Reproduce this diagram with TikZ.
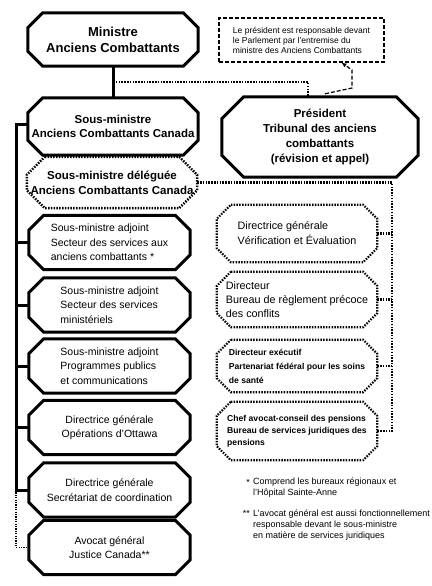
\documentclass[tikz,border=0pt]{standalone}
\usepackage{fontspec}
\setmainfont{Liberation Sans}
\usetikzlibrary{positioning,arrows.meta,calc}

% octagon round a named box: [style]{node}{chamfer}
\newcommand\octo[3][]{%
  \draw[#1] ([xshift=#3]#2.north west) -- ([xshift=-#3]#2.north east)
    -- ([yshift=-#3]#2.north east) -- ([yshift=#3]#2.south east)
    -- ([xshift=-#3]#2.south east) -- ([xshift=#3]#2.south west)
    -- ([yshift=#3]#2.south west) -- ([yshift=-#3]#2.north west) -- cycle;}

\begin{document}
\begin{tikzpicture}[x=1pt,y=-1pt,
  box/.style={rectangle,inner sep=0pt,align=center},
  leftbox/.style={box,minimum width=161pt,minimum height=54pt,font=\fontsize{10.5}{14.5}\selectfont},
  rightbox/.style={box,minimum width=160pt,minimum height=55pt,align=left},
  notebox/.style={draw,line width=1.2pt,dash pattern=on 4pt off 2pt,inner sep=0pt,align=left,font=\fontsize{8.5}{10}\selectfont},
  foot/.style={inner sep=0pt,align=left,font=\fontsize{9}{10.8}\selectfont},
  solid line/.style={line width=3pt},
  dots/.style={line width=2.2pt,dash pattern=on 1.5pt off 1.3pt},
  fine dots/.style={line width=1.3pt,dash pattern=on 1.2pt off 1.2pt}
]
\useasboundingbox (0,0) rectangle (431,586);

% top level
\node[box,minimum width=170pt,minimum height=53pt,font=\fontsize{13}{16}\selectfont\bfseries] (min) at (113,39.5) {Ministre\\Anciens Combattants};
\node[notebox,minimum width=165pt,minimum height=44pt] (note) at (301.5,40) {Le président est responsable devant\\le Parlement par l'entremise du\\ministre des Anciens Combattants};
\node[box,minimum width=170pt,minimum height=57pt,font=\fontsize{11.5}{14}\selectfont\bfseries] (sm) at (113,126.5) {Sous-ministre\\Anciens Combattants Canada};
\node[box,minimum width=196pt,minimum height=80pt,font=\fontsize{11.5}{15}\selectfont\bfseries] (pres) at (320,137) {Président\\Tribunal des anciens\\combattants\\(révision et appel)};
\node[box,minimum width=170pt,minimum height=51pt,font=\fontsize{11.5}{15}\selectfont\bfseries] (smd) at (112,182.5) {Sous-ministre déléguée\\Anciens Combattants Canada};

% left column
\node[leftbox,align=left] (sma1) at (109.5,242.5) {Sous-ministre adjoint\\Secteur des services aux\\anciens combattants *};
\node[leftbox,align=left] (sma2) at (109.5,305) {Sous-ministre adjoint\\Secteur des services\\ministériels};
\node[leftbox,align=left] (sma3) at (109.5,366) {Sous-ministre adjoint\\Programmes publics\\et communications};
\node[leftbox] (dgo) at (109.5,427.5) {Directrice générale\\Opérations d'Ottawa};
\node[leftbox] (dgs) at (109.5,490) {Directrice générale\\Secrétariat de coordination};
\node[leftbox] (avg) at (109.5,547.5) {Avocat général\\Justice Canada**};

% right column
\node[rightbox,minimum height=57pt,font=\fontsize{10.8}{15}\selectfont] (dgv) at (297,233.5) {Directrice générale\\Vérification et Évaluation};
\node[rightbox,font=\fontsize{10.8}{14}\selectfont] (dir) at (297,299.5) {Directeur\\Bureau de règlement précoce\\des conflits};
\node[rightbox,minimum height=52pt,font=\fontsize{8.6}{14}\selectfont\bfseries] (dex) at (297,366) {Directeur exécutif\\Partenariat fédéral pour les soins\\de santé};
\node[rightbox,minimum height=58pt,font=\fontsize{8.6}{12}\selectfont\bfseries] (chef) at (297,431) {Chef avocat-conseil des pensions\\Bureau de services juridiques des\\pensions};

% octagons
\foreach \n/\c in {min/15pt,sm/15pt,pres/22pt,sma1/15pt,sma2/15pt,sma3/15pt,dgo/15pt,dgs/15pt,avg/15pt}
  \octo[solid line]{\n}{\c};
\octo[dots,line width=2.5pt]{smd}{18pt}
\foreach \n in {dgv,dir,dex,chef}
  \octo[dots]{\n}{14pt};

% footnotes
\node[foot,anchor=base west] (fn1) at (253,495.5) {Comprend les bureaux régionaux et\\l'Hôpital Sainte-Anne};
\node[foot,anchor=base east] (st1) at (250,485) {*};
\node[foot,anchor=base west] (fn2) at (253,538) {L'avocat général est aussi fonctionnellement\\responsable devant le sous-ministre\\en matière de services juridiques};
\node[foot,anchor=base east] (st2) at (250,516.5) {**};

% connectors
\coordinate (lbus) at (16,0);
\coordinate (rbus) at (392,0);
\coordinate (mid) at ($(min.south)!0.5!(sm.north)$);
\draw[solid line] (min.south) -- (sm.north);
\draw[dots] (mid) -| ([xshift=-12pt]pres.north);
\coordinate (p1) at ([xshift=5pt,yshift=3pt]pres.north);
\coordinate (p2) at (352,88);
\coordinate (p3) at (352,70);
\draw[line width=1.2pt,dash pattern=on 4pt off 2pt,-{Latex[length=5pt,width=4.5pt]}] (p1) -- (p2) -- (p3) -- ([xshift=40pt]note.south);
\draw[solid line] ([yshift=2pt]sm.west) -| (lbus |- dgs.west) -- (dgs.west);
\foreach \n in {sma1,sma2,sma3,dgo}
  \draw[solid line] (\n.west) -- (\n.west -| lbus);
\draw[fine dots] (lbus |- dgs.west) -- (lbus |- avg.west) -- (avg.west);
\draw[dots] (smd.east) -- (smd.east -| rbus) -- (rbus |- chef.east) -- (chef.east);
\foreach \n in {dgv,dir,dex}
  \draw[dots] (\n.east) -- (\n.east -| rbus);
\end{tikzpicture}
\end{document}
